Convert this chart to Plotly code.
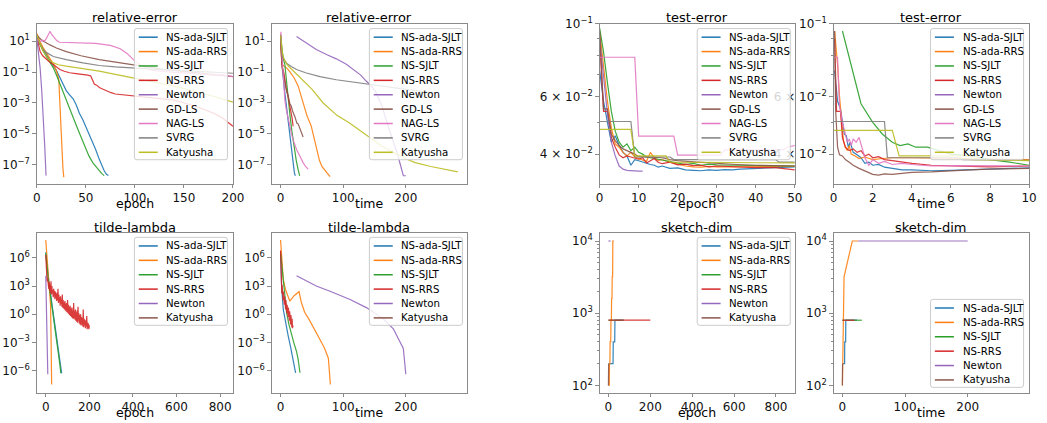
import plotly.graph_objects as go

W, H = 1047, 423
FONT = "DejaVu Sans"
FRAME = "#8a8a8a"

METHODS9 = ["NS-ada-SJLT", "NS-ada-RRS", "NS-SJLT", "NS-RRS", "Newton",
            "GD-LS", "NAG-LS", "SVRG", "Katyusha"]
METHODS6 = ["NS-ada-SJLT", "NS-ada-RRS", "NS-SJLT", "NS-RRS", "Newton", "Katyusha"]
COLORS9 = ["#1f77b4", "#ff7f0e", "#2ca02c", "#d62728", "#9467bd",
           "#8c564b", "#e377c2", "#7f7f7f", "#bcbd22"]
COLORS6 = ["#1f77b4", "#ff7f0e", "#2ca02c", "#d62728", "#9467bd", "#8c564b"]

# ---------------- relative-error vs epoch (log10 values) ----------------
RE_EP_NS_ADA_SJLT = [(0, 1.38), (3, 0.85), (6.7, 0.43), (10, 0.1), (13, -0.2), (16.8, -0.52), (20, -0.9),
                     (23.5, -1.36), (27, -1.8), (30, -2.2), (33, -2.45), (37, -2.73), (40, -3.1), (43.5, -3.68),
                     (47, -4.1), (50, -4.53), (53, -5.0), (57, -5.58), (60, -6.0), (63.7, -6.64), (66, -7.0),
                     (68.7, -7.38), (71, -7.6), (73, -7.69)]
RE_EP_NS_ADA_RRS = [(0, 1.49), (3, 1.0), (6.7, 0.54), (10, 0.2), (13.4, -0.1), (17, -0.5), (20, -0.94),
                    (22.4, -1.47), (23.2, -2.6), (24, -3.9), (25, -5.2), (25.8, -6.43), (26.6, -7.2), (27.5, -7.8)]
RE_EP_NS_SJLT = [(0, 1.38), (3, 0.8), (6.7, 0.32), (10, -0.05), (13, -0.35), (16.8, -0.73), (20, -1.2),
                 (23.5, -1.78), (27, -2.35), (30, -2.84), (33, -3.3), (37, -3.9), (40, -4.4), (43.5, -4.95),
                 (47, -5.5), (50, -6.0), (53, -6.4), (57, -6.85), (60, -7.1), (63.7, -7.38), (66, -7.55),
                 (68.7, -7.69)]
RE_EP_NS_RRS = [(0, 1.27), (3.35, 0.32), (6, 0.05), (10, -0.2), (13, -0.35), (16.8, -0.52), (20, -0.7),
                (23.5, -0.84), (28, -0.95), (33.5, -1.05), (40, -1.1), (47, -1.15), (52, -1.2), (55, -1.26),
                (57, -1.5), (58.6, -1.78), (61, -1.85), (63.7, -2.0), (67, -2.1), (70, -2.2), (75, -2.32),
                (80, -2.42), (90, -2.48), (97, -2.52), (110, -2.6), (130.6, -2.73), (140, -2.82), (147, -2.94),
                (155, -3.08), (164, -3.26), (172, -3.45), (181, -3.68), (190, -4.0), (200, -4.5)]
RE_EP_NEWTON = [(0, 1.17), (1.7, 0.3), (3.35, -0.73), (5, -2.2), (6.7, -3.9), (8, -5.7), (9.4, -7.69)]
RE_EP_GD_LS = [(0, 1.38), (5, 1.05), (13.4, 0.75), (20, 0.55), (30, 0.32), (45, 0.05), (63.7, -0.2),
               (80, -0.37), (97, -0.52), (115, -0.68), (130.6, -0.84), (147, -0.95), (164, -1.05),
               (182, -1.18), (200, -1.3)]
RE_EP_NAG_LS = [(0, 1.1), (3, 0.95), (6, 1.05), (8, 1.0), (10, 1.2), (12, 1.45), (13.4, 1.62), (15, 1.45),
                (17, 1.3), (20, 1.05), (23, 0.92), (30, 0.9), (45, 0.88), (60, 0.85), (75, 0.72), (85, 0.5),
                (92, 0.2), (100, -0.3), (108, -0.65), (115, -0.85), (125, -0.95), (140, -1.02), (160, -1.1),
                (180, -1.2), (190, -1.18), (200, -1.3)]
RE_EP_SVRG = [(0, 1.38), (3, 0.85), (6.7, 0.43), (10, 0.25), (16.8, 0.0), (23, -0.1), (30, -0.2),
              (47, -0.41), (63.7, -0.58), (80, -0.67), (97, -0.75), (130, -0.86), (164, -0.96), (200, -1.08)]
RE_EP_KATYUSHA = [(0, 1.38), (3, 0.85), (6, 0.4), (10, 0.0), (13, -0.25), (16.8, -0.41), (22, -0.53),
                  (30, -0.62), (45, -0.76), (63.7, -0.94), (80, -1.15), (97, -1.36), (115, -1.57),
                  (130, -1.78), (147, -2.02), (164, -2.3), (182, -2.6), (200, -2.95)]

# ---------------- relative-error vs time (log10 values) ----------------
RE_T_NS_ADA_SJLT = [(0, 1.3), (1, 0.2), (3, -0.8), (5.5, -1.9), (8, -2.8), (10.5, -3.6), (13, -4.5),
                    (15.5, -5.4), (18, -6.3), (20, -6.9), (22, -7.5), (23.5, -7.7)]
RE_T_NS_ADA_RRS = [(0, 1.2), (1, 0.2), (2, -0.5), (5, -0.6), (10, -0.75), (14, -0.95), (18, -1.15),
                   (22, -1.4), (28, -1.9), (32, -2.4), (36, -3.05), (42, -3.8), (49, -4.5), (53, -5.2),
                   (57, -5.9), (62, -6.7), (66, -7.1), (70, -7.3), (74, -7.55), (79, -7.75)]
RE_T_NS_SJLT = [(0, 1.35), (2, 0.5), (4, -0.1), (6.8, -0.5), (9, -1.5), (12, -2.7), (15, -3.8),
                (18, -4.8), (21, -5.7), (25, -6.7), (28, -7.3), (30.5, -7.7)]
RE_T_NS_RRS = [(0, 1.3), (0.5, 0.5), (1, 0.0), (2, -0.5), (3, -0.8), (4.3, -0.9), (5.5, -1.1), (7, -1.6),
               (8.5, -2.0), (9.6, -2.2), (11, -2.4), (12.5, -2.7), (14, -2.9), (15.5, -3.2), (17, -3.6),
               (18.5, -4.0), (20, -4.5)]
RE_T_NEWTON = [(25.5, 1.3), (40, 0.9), (57, 0.45), (75, 0.1), (89, -0.15), (105, -0.5), (116, -0.84),
               (128, -1.2), (137, -1.6), (145, -1.9), (152, -2.3), (157, -2.7), (162, -3.2), (167, -3.9),
               (173, -4.7), (180, -5.5), (186, -6.2), (191, -6.9), (196, -7.7), (200, -7.7)]
RE_T_GD_LS = [(0, 1.4), (1, 0.3), (2, -0.4), (4, -1.1), (6.9, -1.78), (10, -2.3), (12, -2.5), (14.9, -3.05),
              (17, -3.2), (19, -3.5), (23, -3.9), (26, -4.3), (28, -4.35), (32, -4.8), (36, -5.2)]
RE_T_NAG_LS = [(0, 1.2), (0.5, 1.6), (1.5, 0.6), (3.2, -0.73), (5, -1.9), (6.9, -2.84), (9, -3.4),
               (12.2, -3.9), (14.9, -4.5), (17.5, -5.0), (20.2, -5.4), (25.5, -6.0), (30, -6.4),
               (36, -6.85), (40, -7.1), (44, -7.27)]
RE_T_SVRG = [(0, 1.38), (1, 0.6), (2, 0.2), (4, -0.1), (6, -0.25), (10, -0.45), (17, -0.65), (25.5, -0.84),
             (40, -1.05), (62.8, -1.3), (89, -1.5), (116, -1.66), (143, -1.82), (180, -2.02), (215, -2.2),
             (245, -2.35)]
RE_T_KATYUSHA = [(0, 1.35), (1.5, 0.6), (3, 0.2), (5, -0.1), (7, -0.3), (12, -0.6), (25, -1.1), (50, -2.1),
                 (68, -3.0), (90, -3.8), (110, -4.3), (130, -4.9), (162, -5.8), (200, -6.6), (215, -6.85),
                 (240, -7.1), (283, -7.45)]

# ---------------- test-error vs epoch ----------------
TE_EP_NS_ADA_SJLT = [(0, 0.072), (1, 0.058), (2, 0.05), (3, 0.0435), (4, 0.0455), (5, 0.0425), (6, 0.0405),
                     (7, 0.0395), (8, 0.037), (9, 0.0385), (10, 0.0382), (11, 0.0378), (12, 0.0375),
                     (13, 0.0372), (14, 0.037), (15, 0.0365), (16, 0.0368), (18, 0.0362), (20, 0.0363),
                     (22, 0.0358), (24, 0.0357), (26, 0.0356), (28, 0.0358), (30, 0.0357), (32, 0.0359),
                     (34, 0.0358), (36, 0.036), (38, 0.0361), (40, 0.0362), (42, 0.0363), (44, 0.0364),
                     (46, 0.0364), (48, 0.0365), (50, 0.0366)]
TE_EP_NS_ADA_RRS = [(0, 0.095), (1, 0.075), (2, 0.058), (3, 0.048), (4, 0.043), (5, 0.042), (6, 0.0405),
                    (7, 0.0395), (8, 0.0405), (9, 0.0392), (10, 0.0388), (11, 0.0385), (12, 0.038),
                    (13, 0.0405), (14, 0.039), (15, 0.0383), (16, 0.0385), (18, 0.0378), (20, 0.0372),
                    (22, 0.0368), (24, 0.0366), (26, 0.0365), (28, 0.0367), (30, 0.0366), (35, 0.0366),
                    (40, 0.0367), (45, 0.0367), (50, 0.0367)]
TE_EP_NS_SJLT = [(0, 0.097), (1, 0.082), (2, 0.066), (3, 0.054), (4, 0.047), (5, 0.0435), (6, 0.042),
                 (7, 0.043), (8, 0.041), (9, 0.042), (10, 0.0405), (11, 0.04), (12, 0.0392), (14, 0.0388),
                 (16, 0.0384), (18, 0.038), (20, 0.0377), (22, 0.0372), (24, 0.0375), (26, 0.037),
                 (28, 0.0373), (30, 0.0371), (35, 0.037), (40, 0.0369), (45, 0.0368), (50, 0.0368)]
TE_EP_NS_RRS = [(0, 0.09), (1, 0.054), (2, 0.054), (3, 0.045), (4, 0.042), (5, 0.0398), (6, 0.039),
                (7, 0.0395), (8, 0.0392), (9, 0.039), (10, 0.0386), (11, 0.039), (12, 0.0376), (13, 0.0382),
                (14, 0.0388), (15, 0.0378), (16, 0.0374), (18, 0.0378), (20, 0.0371), (22, 0.0373),
                (24, 0.0369), (26, 0.037), (28, 0.0366), (30, 0.0368), (35, 0.0366), (40, 0.0364),
                (45, 0.0364), (48, 0.036), (50, 0.0358)]
TE_EP_NEWTON = [(0, 0.09), (1, 0.07), (2, 0.053), (3, 0.0435), (4, 0.0395), (5, 0.0368), (6, 0.036),
                (7, 0.0357), (8, 0.0356), (9, 0.0355), (10, 0.0355), (11, 0.0355)]
TE_EP_GD_LS = [(0, 0.095), (1, 0.055), (2, 0.055), (3, 0.046), (4, 0.044), (5, 0.0425), (6, 0.0415),
               (7, 0.041), (8, 0.0405), (9, 0.04), (10, 0.0393), (12, 0.0392), (14, 0.039), (16, 0.039),
               (18, 0.0385), (20, 0.0382), (25, 0.0378), (30, 0.0374), (35, 0.0372), (40, 0.037),
               (45, 0.0369), (50, 0.0368)]
TE_EP_NAG_LS = [(0, 0.079), (9, 0.079), (10, 0.0454), (19, 0.0454), (20, 0.0397), (31, 0.0397),
                (32, 0.0412), (47, 0.0412), (48, 0.042), (50, 0.0425)]
TE_EP_SVRG = [(0, 0.0503), (8, 0.0503), (9, 0.0392), (18, 0.0392), (19, 0.0385), (45, 0.0385),
              (46, 0.0378), (50, 0.0378)]
TE_EP_KATYUSHA = [(0, 0.0476), (8, 0.0476), (9, 0.0395), (17, 0.0395), (18, 0.0378), (50, 0.0376)]

# ---------------- test-error vs time ----------------
TE_T_NS_ADA_SJLT = [(0.05, 0.072), (0.2, 0.058), (0.35, 0.055), (0.45, 0.05), (0.55, 0.046), (0.65, 0.0455),
                    (0.75, 0.042), (0.85, 0.0435), (1.0, 0.0405), (1.2, 0.0398), (1.4, 0.039), (1.6, 0.0375),
                    (1.8, 0.0378), (2.0, 0.037), (2.3, 0.0372), (2.6, 0.0365), (3.0, 0.0362), (3.5, 0.0358),
                    (4, 0.0358), (5, 0.0356), (6, 0.0357), (7, 0.0359), (8, 0.036), (9, 0.0362), (10, 0.0363)]
TE_T_NS_ADA_RRS = [(0.05, 0.095), (0.2, 0.075), (0.3, 0.06), (0.4, 0.05), (0.5, 0.044), (0.6, 0.042),
                   (0.7, 0.041), (0.8, 0.0425), (0.9, 0.04), (1.1, 0.0395), (1.3, 0.0388), (1.6, 0.0392),
                   (2.0, 0.0385), (2.5, 0.0388), (3, 0.039), (4, 0.039), (6, 0.0388), (8, 0.0387),
                   (10, 0.0385)]
TE_T_NS_SJLT = [(0.45, 0.095), (0.9, 0.075), (1.4, 0.057), (2.0, 0.05), (2.5, 0.046), (3.0, 0.0435),
                (3.4, 0.0425), (3.8, 0.043), (4.2, 0.042), (4.8, 0.042), (5.3, 0.0412), (6, 0.040),
                (7, 0.0395), (8, 0.0385), (9, 0.0378), (10, 0.037)]
TE_T_NS_RRS = [(0.05, 0.09), (0.15, 0.054), (0.35, 0.054), (0.45, 0.045), (0.6, 0.042), (0.8, 0.041),
               (1.0, 0.0415), (1.2, 0.0405), (1.4, 0.041), (1.6, 0.0395), (1.8, 0.04), (2.0, 0.039),
               (2.3, 0.0393), (2.6, 0.0385), (3, 0.0382), (3.5, 0.0378), (4, 0.0375), (5, 0.037),
               (6, 0.0368), (7, 0.0367), (8, 0.0366), (9, 0.0367), (10, 0.0368)]
TE_T_NEWTON = [(25, 0.09), (50, 0.053), (75, 0.0395), (100, 0.036), (150, 0.0356), (200, 0.0355)]
TE_T_GD_LS = [(0.05, 0.095), (0.1, 0.055), (0.2, 0.042), (0.3, 0.0398), (0.45, 0.0395), (0.6, 0.0385),
              (0.8, 0.0378), (1.0, 0.037), (1.3, 0.0362), (1.6, 0.0355), (2.0, 0.0347), (2.3, 0.0345),
              (2.6, 0.0348), (3, 0.0347), (3.5, 0.035), (4, 0.0352), (5, 0.0353), (6, 0.0356),
              (7, 0.0358), (8, 0.036), (9, 0.0361), (10, 0.0362)]
TE_T_NAG_LS = [(0.05, 0.079), (0.2, 0.079), (0.3, 0.056), (0.45, 0.05), (0.6, 0.046), (0.7, 0.0435),
               (0.8, 0.0445), (0.9, 0.0425), (1.0, 0.0445), (1.15, 0.0435), (1.3, 0.045), (1.45, 0.042),
               (1.6, 0.039), (1.8, 0.037), (2.0, 0.0385), (2.3, 0.0375), (2.6, 0.038), (3.0, 0.0372),
               (3.5, 0.0375), (4, 0.0372), (5, 0.0368), (6, 0.0369), (8, 0.0368), (10, 0.0368)]
TE_T_SVRG = [(0.0, 0.0503), (2.6, 0.0503), (2.75, 0.039), (6.5, 0.039), (6.6, 0.0385), (10, 0.0383)]
TE_T_KATYUSHA = [(0.0, 0.0473), (3.0, 0.0473), (3.35, 0.0395), (7, 0.0395), (7.1, 0.0385), (10, 0.0382)]

# ---------------- tilde-lambda vs epoch (log10 values) ----------------
LAM_EP_NS_ADA_SJLT = [(0, 6.6), (5, 5.2), (10, 4.2), (15, 3.3), (20, 2.5), (25, 1.6), (30, 0.8), (35, 0.0),
                      (40, -0.9), (45, -1.8), (50, -2.6), (55, -3.4), (60, -4.2), (65, -5.0), (70, -5.8),
                      (73, -6.3)]
LAM_EP_NS_ADA_RRS = [(0, 7.9), (5, 6.3), (10, 5.0), (15, 3.8), (20, 2.5), (22, 1.0), (24, -2.0),
                     (26, -5.0), (27, -7.5)]
LAM_EP_NS_SJLT = [(0, 6.5), (5, 5.0), (10, 4.0), (15, 3.1), (20, 2.3), (25, 1.5), (30, 0.7), (35, -0.1),
                  (40, -1.0), (45, -1.9), (50, -2.7), (55, -3.6), (60, -4.4), (65, -5.4), (69, -6.3)]
LAM_EP_NS_RRS_EPOCHS = list(range(0, 201, 2))
LAM_EP_NS_RRS_LOG10 = [6.3, 4.9, 4.1, 3.5, 3.9, 3.0, 3.6, 2.7, 3.4, 2.5, 3.2, 2.3, 3.5, 2.1, 3.0, 2.2, 2.6,
                       1.8, 2.7, 1.9, 2.5, 1.6, 2.4, 1.7, 2.2, 1.4, 2.3, 1.5, 2.7, 1.2, 2.1, 1.3, 1.8, 0.9,
                       1.9, 1.1, 1.6, 0.8, 2.1, 0.7, 1.5, 0.6, 1.3, 0.5, 1.4, 0.4, 1.1, 0.3, 1.2, 0.2, 1.5,
                       0.1, 1.0, 0.0, 0.8, -0.1, 0.9, -0.2, 0.6, -0.3, 0.7, -0.4, 0.4, -0.5, 1.2, -0.4, 0.3,
                       -0.6, 0.5, -0.7, 0.2, -0.8, 0.4, -0.9, 0.8, -0.7, 0.1, -1.0, -0.1, -1.1, 0.0, -1.2,
                       -0.3, -1.1, -0.4, -1.3, 0.5, -1.4, -0.5, -1.2, -0.6, -1.5, -0.7, -1.3, -0.2, -1.6,
                       -0.9, -1.5, -1.0, -1.6, -1.2]
LAM_EP_NEWTON = [(0, 4.1), (3, 1.0), (6, -2.2), (9.4, -6.4)]
LAM_EP_KATYUSHA = []

# ---------------- tilde-lambda vs time (log10 values) ----------------
LAM_T_NS_ADA_SJLT = [(0, 6.6), (1.6, 3.0), (4.3, 0.5), (8, -1.0), (12, -2.25), (16, -3.5), (20, -4.7),
                     (24, -6.25)]
LAM_T_NS_ADA_RRS = [(0, 7.9), (2, 5.5), (4.3, 3.7), (8, 2.6), (14.7, 1.4), (22, 2.0), (29.5, 2.4),
                    (33, 1.3), (38.4, 0.2), (45, -0.5), (52, -1.3), (62, -2.6), (70, -3.6), (76.3, -4.7),
                    (79.5, -7.5)]
LAM_T_NS_SJLT = [(0, 6.5), (2.6, 4.7), (6, 2.3), (9.6, 0.2), (13, -1.0), (17.5, -2.25), (21, -3.0),
                 (25.5, -4.0), (28, -4.8), (31, -6.25)]
LAM_T_NS_RRS_TIMES = [i * 0.5 for i in range(41)]
LAM_T_NS_RRS_LOG10 = [6.8, 4.2, 3.0, 3.6, 2.2, 3.1, 1.8, 2.7, 1.5, 2.4, 1.2, 2.2, 1.0, 1.9, 0.7, 1.7, 0.5,
                      1.5, 0.3, 1.2, 0.1, 1.0, -0.1, 0.8, -0.3, 0.7, -0.5, 0.5, -0.7, 0.3, -0.9, 0.1, -1.1,
                      -0.1, -1.3, -0.3, -1.4, -0.5, -1.5, -0.8, -1.2]
LAM_T_NEWTON = [(25.5, 4.1), (57, 3.0), (79, 2.45), (111, 1.57), (137, 0.7), (164, -0.5), (180, -1.56),
                (196, -3.65), (200, -6.4)]
LAM_T_KATYUSHA = []

# ---------------- sketch-dim ----------------
SD_EP_NS_ADA_SJLT = [(0, 200), (22, 200), (23, 400), (30, 400), (31, 800), (74, 800)]
SD_EP_NS_ADA_RRS = [(0, 100), (4, 100), (5, 200), (7, 200), (8, 400), (11, 400), (12, 800), (14, 800),
                    (15, 1600), (17, 1600), (18, 3200), (20, 3200), (21, 10000), (27, 10000)]
SD_EP_NS_SJLT = [(0, 800), (69, 800)]
SD_EP_NS_RRS = [(0, 800), (200, 800)]
SD_EP_NEWTON = [(0, 10000), (10, 10000)]
SD_EP_KATYUSHA = [(0, 100), (1, 200)]

SD_T_NS_ADA_SJLT = [(0, 200), (3.5, 200), (3.7, 400), (5.2, 400), (5.4, 800), (23.5, 800)]
SD_T_NS_ADA_RRS = [(0, 100), (0.3, 200), (0.6, 400), (1.0, 800), (1.6, 1600), (2.6, 3200), (15.8, 10000),
                   (25, 10000)]
SD_T_NS_SJLT = [(0, 800), (31, 800)]
SD_T_NS_RRS = [(0, 800), (19.5, 800)]
SD_T_NEWTON = [(25, 10000), (200, 10000)]
SD_T_KATYUSHA = [(0, 100), (0.2, 200)]

# ---------------- layout geometry (pixels) ----------------
COLS = [(33.3, 232.3), (271.7, 469.3), (604.3, 802.3), (841.7, 1040.0)]
ROWS = [(15.0, 178.3), (229.3, 392.3)]


def px(x):
    return x / W


def py(y):
    return 1 - y / H


def p10(e):
    return "10<sup>" + str(e).replace("-", "\u2212") + "</sup>"


fig = go.Figure()


def pairs_xy(pairs, log):
    xs = [p[0] for p in pairs]
    ys = [10 ** p[1] if log else p[1] for p in pairs]
    return xs, ys


def add_line(panel, xs, ys, color):
    sfx = "" if panel == 1 else str(panel)
    fig.add_trace(go.Scatter(x=xs, y=ys, mode="lines", line=dict(color=color, width=1.2),
                             opacity=0.9, xaxis="x" + sfx, yaxis="y" + sfx,
                             showlegend=False, hoverinfo="skip"))


PANEL_SERIES = {
    1: ([RE_EP_NS_ADA_SJLT, RE_EP_NS_ADA_RRS, RE_EP_NS_SJLT, RE_EP_NS_RRS, RE_EP_NEWTON, RE_EP_GD_LS,
         RE_EP_NAG_LS, RE_EP_SVRG, RE_EP_KATYUSHA], COLORS9, True),
    2: ([RE_T_NS_ADA_SJLT, RE_T_NS_ADA_RRS, RE_T_NS_SJLT, RE_T_NS_RRS, RE_T_NEWTON, RE_T_GD_LS,
         RE_T_NAG_LS, RE_T_SVRG, RE_T_KATYUSHA], COLORS9, True),
    3: ([TE_EP_NS_ADA_SJLT, TE_EP_NS_ADA_RRS, TE_EP_NS_SJLT, TE_EP_NS_RRS, TE_EP_NEWTON, TE_EP_GD_LS,
         TE_EP_NAG_LS, TE_EP_SVRG, TE_EP_KATYUSHA], COLORS9, False),
    4: ([TE_T_NS_ADA_SJLT, TE_T_NS_ADA_RRS, TE_T_NS_SJLT, TE_T_NS_RRS, TE_T_NEWTON, TE_T_GD_LS,
         TE_T_NAG_LS, TE_T_SVRG, TE_T_KATYUSHA], COLORS9, False),
    5: ([LAM_EP_NS_ADA_SJLT, LAM_EP_NS_ADA_RRS, LAM_EP_NS_SJLT, None, LAM_EP_NEWTON, LAM_EP_KATYUSHA],
        COLORS6, True),
    6: ([LAM_T_NS_ADA_SJLT, LAM_T_NS_ADA_RRS, LAM_T_NS_SJLT, None, LAM_T_NEWTON, LAM_T_KATYUSHA],
        COLORS6, True),
    7: ([SD_EP_NS_ADA_SJLT, SD_EP_NS_ADA_RRS, SD_EP_NS_SJLT, SD_EP_NS_RRS, SD_EP_NEWTON, SD_EP_KATYUSHA],
        COLORS6, False),
    8: ([SD_T_NS_ADA_SJLT, SD_T_NS_ADA_RRS, SD_T_NS_SJLT, SD_T_NS_RRS, SD_T_NEWTON, SD_T_KATYUSHA],
        COLORS6, False),
}

for panel, (series, colors, is_log) in PANEL_SERIES.items():
    for idx, pairs in enumerate(series):
        if pairs is None:
            if panel == 5:
                xs, ys = LAM_EP_NS_RRS_EPOCHS, [10 ** v for v in LAM_EP_NS_RRS_LOG10]
            else:
                xs, ys = LAM_T_NS_RRS_TIMES, [10 ** v for v in LAM_T_NS_RRS_LOG10]
        else:
            xs, ys = pairs_xy(pairs, is_log)
        add_line(panel, xs, ys, colors[idx])

# ---------------- axes ----------------
RE_YT = [1e1, 1e-1, 1e-3, 1e-5, 1e-7]
RE_YTXT = [p10(1), p10(-1), p10(-3), p10(-5), p10(-7)]
TE_YT = [0.04, 0.06, 0.1]
TE_YTXT = ["4 \u00d7 " + p10(-2), "6 \u00d7 " + p10(-2), p10(-1)]
TE_MINOR = [0.05, 0.07, 0.08, 0.09]
LAM_YT = [1e6, 1e3, 1e0, 1e-3, 1e-6]
LAM_YTXT = [p10(6), p10(3), p10(0), p10(-3), p10(-6)]
SD_YT = [1e2, 1e3, 1e4]
SD_YTXT = [p10(2), p10(3), p10(4)]
SD_MINOR = [m * 100 for m in range(2, 10)] + [m * 1000 for m in range(2, 10)]

PANELS = [
    # title, xlabel, xrange, yrange(log10), xticks, yticks, ytext, yminor
    ("relative-error", "epoch", [0, 200], [-8.2, 2.12], [0, 50, 100, 150, 200], RE_YT, RE_YTXT, None),
    ("relative-error", "time", [-14, 297], [-8.2, 2.12], [0, 100, 200], RE_YT, RE_YTXT, None),
    ("test-error", "epoch", [0, 50], [-1.4875, -1.0], [0, 10, 20, 30, 40, 50], TE_YT, TE_YTXT, TE_MINOR),
    ("test-error", "time", [0, 10], [-1.4875, -1.0], [0, 2, 4, 6, 8, 10], TE_YT, TE_YTXT, TE_MINOR),
    ("tilde-lambda", "epoch", [-41, 859], [-8.4, 8.61], [0, 200, 400, 600, 800], LAM_YT, LAM_YTXT, None),
    ("tilde-lambda", "time", [-14, 297], [-8.4, 8.61], [0, 100, 200], LAM_YT, LAM_YTXT, None),
    ("sketch-dim", "epoch", [-42, 890], [1.896, 4.105], [0, 200, 400, 600, 800], SD_YT, SD_YTXT, SD_MINOR),
    ("sketch-dim", "time", [-14, 298], [1.896, 4.105], [0, 100, 200], SD_YT, SD_YTXT, SD_MINOR),
]

LEGENDS = [
    (METHODS9, COLORS9, 132.3, 20.0),
    (METHODS9, COLORS9, 370.7, 20.0),
    (METHODS9, COLORS9, 703.3, 20.0),
    (METHODS9, COLORS9, 940.0, 20.0),
    (METHODS6, COLORS6, 132.3, 233.3),
    (METHODS6, COLORS6, 370.7, 233.3),
    (METHODS6, COLORS6, 703.3, 233.3),
    (METHODS6, COLORS6, 940.0, 296.7),
]

layout = dict(width=W, height=H, autosize=False, margin=dict(l=0, r=0, t=0, b=0),
              paper_bgcolor="white", plot_bgcolor="white",
              font=dict(family=FONT, size=12, color="#000000"))
tickfont = dict(family=FONT, size=12, color="#111111")
annotations = []
shapes = []

for i, (title, xlabel, xr, yr, xt, yt, ytxt, yminor) in enumerate(PANELS):
    n = i + 1
    sfx = "" if n == 1 else str(n)
    x0, x1 = COLS[i % 4]
    y0, y1 = ROWS[i // 4]
    layout["xaxis" + sfx] = dict(domain=[px(x0), px(x1)], anchor="y" + sfx, range=xr,
                                 tickmode="array", tickvals=xt, ticktext=[str(v) for v in xt],
                                 showgrid=False, zeroline=False, showline=True, mirror=True,
                                 linecolor=FRAME, linewidth=1, ticks="outside", ticklen=3,
                                 tickwidth=1, tickcolor=FRAME, tickfont=tickfont)
    ya = dict(domain=[py(y1), py(y0)], anchor="x" + sfx, type="log", range=yr,
              tickmode="array", tickvals=yt, ticktext=ytxt,
              showgrid=False, zeroline=False, showline=True, mirror=True,
              linecolor=FRAME, linewidth=1, ticks="outside", ticklen=3.5,
              tickwidth=1, tickcolor=FRAME, tickfont=tickfont)
    if yminor is not None:
        ya["minor"] = dict(tickmode="array", tickvals=yminor, ticks="outside", ticklen=2,
                           tickwidth=0.8, tickcolor=FRAME, showgrid=False)
    layout["yaxis" + sfx] = ya
    cx = (x0 + x1) / 2
    annotations.append(dict(x=px(cx), y=py(y0 - 6.4), xref="paper", yref="paper", text=title,
                            showarrow=False, xanchor="center", yanchor="middle",
                            font=dict(family=FONT, size=13, color="#000000")))
    annotations.append(dict(x=px(cx), y=py(y1 + 20.2), xref="paper", yref="paper", text=xlabel,
                            showarrow=False, xanchor="center", yanchor="middle",
                            font=dict(family=FONT, size=12.5, color="#000000")))


def rrect_path(xa, ya_, xb, yb, r):
    def P(x, y):
        return f"{px(x):.6f},{py(y):.6f}"
    return (f"M{P(xa + r, ya_)} L{P(xb - r, ya_)} Q{P(xb, ya_)} {P(xb, ya_ + r)} "
            f"L{P(xb, yb - r)} Q{P(xb, yb)} {P(xb - r, yb)} L{P(xa + r, yb)} "
            f"Q{P(xa, yb)} {P(xa, yb - r)} L{P(xa, ya_ + r)} Q{P(xa, ya_)} {P(xa + r, ya_)} Z")


LEG_W = 94.4
LEG_FIRST = 8.8
LEG_STEP = 14.7
for names, colors, left, top in LEGENDS:
    nrow = len(names)
    bottom = top + LEG_FIRST + (nrow - 1) * LEG_STEP + 7.6
    shapes.append(dict(type="path", xref="paper", yref="paper",
                       path=rrect_path(left, top, left + LEG_W, bottom, 2.5),
                       fillcolor="rgba(255,255,255,0.82)", line=dict(color="#cccccc", width=1),
                       layer="above"))
    for k, nm in enumerate(names):
        yc = top + LEG_FIRST + k * LEG_STEP
        shapes.append(dict(type="line", xref="paper", yref="paper", x0=px(left + 4.4), x1=px(left + 23.7),
                           y0=py(yc), y1=py(yc), line=dict(color=colors[k], width=1.5), layer="above"))
        annotations.append(dict(x=px(left + 30.5), y=py(yc), xref="paper", yref="paper", text=nm,
                                showarrow=False, xanchor="left", yanchor="middle",
                                font=dict(family=FONT, size=10.2, color="#000000")))

layout["annotations"] = annotations
layout["shapes"] = shapes
fig.update_layout(**layout)
fig.write_html("out.html")
